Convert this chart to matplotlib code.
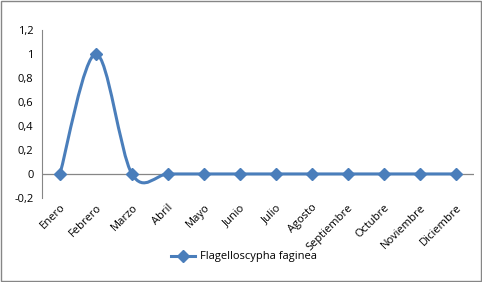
import numpy as np
import matplotlib
matplotlib.use('Agg')
import matplotlib.pyplot as plt
from matplotlib.path import Path
from matplotlib.patches import PathPatch, Rectangle
from matplotlib.lines import Line2D

months = ['Enero', 'Febrero', 'Marzo', 'Abril', 'Mayo', 'Junio', 'Julio',
          'Agosto', 'Septiembre', 'Octubre', 'Noviembre', 'Diciembre']
values = [0, 1, 0, 0, 0, 0, 0, 0, 0, 0, 0, 0]
series_name = 'Flagelloscypha faginea'
y_ticks = [-0.2, 0, 0.2, 0.4, 0.6, 0.8, 1, 1.2]

color = '#4A7EBB'
plt.rcParams['font.family'] = ['Open Sans', 'DejaVu Sans']

fig = plt.figure(figsize=(4.82, 2.82), dpi=100)
ax = fig.add_axes([0.087, 0.298, 0.896, 0.596])

x = np.arange(len(months))
y = np.array(values, dtype=float)

# smoothed line like Excel: cubic bezier through the points
verts = [(x[0], y[0])]
codes = [Path.MOVETO]
n = len(x)
for i in range(n - 1):
    p0 = np.array([x[max(i - 1, 0)], y[max(i - 1, 0)]])
    p1 = np.array([x[i], y[i]])
    p2 = np.array([x[i + 1], y[i + 1]])
    p3 = np.array([x[min(i + 2, n - 1)], y[min(i + 2, n - 1)]])
    c1 = p1 + (p2 - p0) / 6
    c2 = p2 - (p3 - p1) / 6
    verts += [tuple(c1), tuple(c2), tuple(p2)]
    codes += [Path.CURVE4] * 3
ax.add_patch(PathPatch(Path(verts, codes), fill=False, edgecolor=color, lw=2.2,
                       capstyle='round', joinstyle='round', zorder=3))
ax.plot(x, y, linestyle='none', marker='D', ms=6, color=color, zorder=4)

ax.set_xlim(-0.5, 11.5)
ax.set_ylim(-0.2, 1.2)
ax.set_yticks(y_ticks)
ax.set_yticklabels([f'{t:g}'.replace('.', ',') for t in y_ticks], fontsize=8)
ax.set_xticks(x)
ax.set_xticklabels(months, rotation=45, ha='right', rotation_mode='anchor', fontsize=8)
ax.tick_params(axis='y', length=0, pad=6)
ax.tick_params(axis='x', length=0, pad=3)

for s in ['top', 'right', 'bottom']:
    ax.spines[s].set_visible(False)
ax.spines['left'].set_color('#868686')
ax.axhline(0, color='#868686', lw=0.9, zorder=2)

handle = Line2D([], [], color=color, lw=2.2, marker='D', ms=6)
fig.legend([handle], [series_name], loc='center', bbox_to_anchor=(0.506, 0.089),
           frameon=False, fontsize=8, handlelength=2.2, handletextpad=0.4)

fig.patches.append(Rectangle((0.002, 0.003), 0.995, 0.994, transform=fig.transFigure,
                             fill=False, edgecolor='#868686', lw=1))

fig.savefig('out.png', dpi=100)
